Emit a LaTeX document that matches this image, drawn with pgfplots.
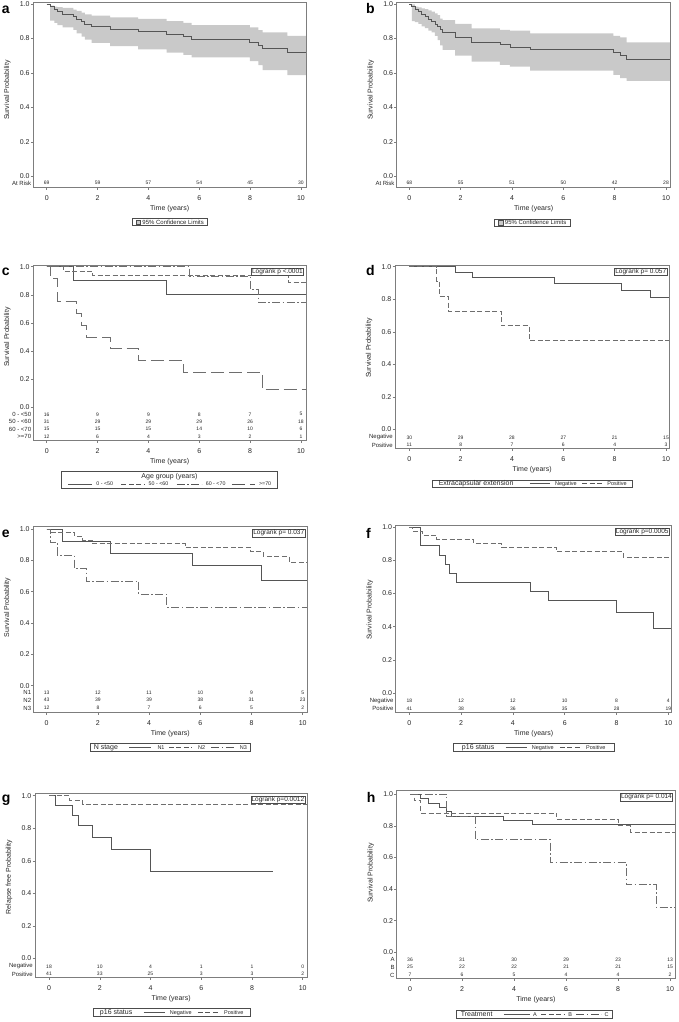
\documentclass[border=0pt]{standalone}
\usepackage{fontspec}
\setmainfont{Liberation Sans}
\usepackage{pgfplots}
\pgfplotsset{compat=1.18}
\usepgfplotslibrary{fillbetween}
\definecolor{band}{RGB}{201,201,201}
\definecolor{frame}{RGB}{125,125,125}
\definecolor{curve}{RGB}{85,85,85}
\definecolor{curveb}{RGB}{110,110,110}
\newcommand\fsz[1]{\fontsize{#1}{#1}\selectfont}
\tikzset{
 riskn/.style={font=\fsz{5}, inner sep=0pt, text=black!85},
 riskl/.style={font=\fsz{6}, inner sep=0pt, anchor=east, xshift=-2pt, text=black!85},
 lgbox/.style={draw=black!70, line width=0.5pt, inner sep=0.5pt, align=center, font=\fsz{6}, text=black!85},
 plet/.style={font=\fsz{14}\bfseries, inner sep=0pt, anchor=base west},
 logr/.style={draw=black!70, line width=0.5pt, inner sep=0.7pt, font=\fsz{6.5}, anchor=north east, xshift=-2.2pt, yshift=-2.5pt, text=black!85, fill=white},
 s2/.style={dash pattern=on 5pt off 2.5pt},
 s3/.style={dash pattern=on 8pt off 2.5pt on 1.5pt off 2.5pt},
 s4/.style={dash pattern=on 13pt off 5pt},
}
\newcommand\lsamp[2]{\tikz[baseline=-0.6ex]\draw[curve, line width=0.6pt, #1] (0,0)--(#2,0);}
\newcommand\riskrow[8]{%
 \node[riskl] at (axis cs:\pgfkeysvalueof{/pgfplots/xmin},#1) {#2};
 \node[riskn] at (axis cs:0,#1) {#3};
 \node[riskn] at (axis cs:2,#1) {#4};
 \node[riskn] at (axis cs:4,#1) {#5};
 \node[riskn] at (axis cs:6,#1) {#6};
 \node[riskn] at (axis cs:8,#1) {#7};
 \node[riskn] at (axis cs:10,#1) {#8};
}
\pgfplotsset{km/.style={
 scale only axis, clip=false, anchor=south west, axis on top,
 axis line style={frame, line width=0.6pt},
 tick pos=left, tick align=outside, major tick length=2.5pt,
 tick style={frame, line width=0.5pt},
 xtick={0,2,4,6,8,10}, ytick={0,0.2,0.4,0.6,0.8,1},
 tick label style={font=\fsz{7}, text=black!85},
 yticklabel style={/pgf/number format/fixed, /pgf/number format/fixed zerofill, /pgf/number format/precision=1, inner sep=1pt},
 xticklabel style={inner sep=1.5pt, yshift=-4.5pt},
 /pgf/number format/assume math mode=true,
 xlabel={Time (years)},
 ylabel={Survival Probability},
 xlabel style={at={(axis description cs:0.5,0)}, anchor=center, yshift=-21.5pt, font=\fsz{7}, text=black!85},
 no markers,
 every axis plot/.append style={line width=0.8pt},
},
ylab/.style={every axis y label/.style={at={(axis description cs:0,#1)}, xshift=-26pt, rotate=90, anchor=center, font=\fsz{7}, text=black!85}},
}
\begin{document}
\begin{tikzpicture}
\path (0,0) rectangle (678pt,-1022pt);

% ---------------- a ----------------
\begin{axis}[km, at={(33.3pt,-187pt)}, width=272.7pt, height=184.7pt,
 xmin=-0.527, xmax=10.197, ymin=-0.062, ymax=1.0099, ylab=0.5243]
\addplot[name path=Ua, const plot, draw=none] coordinates {(0,1) (0.13,0.99) (0.30,0.985) (0.42,0.982) (0.63,0.978) (1.05,0.968) (1.18,0.96) (1.37,0.95) (1.50,0.94) (1.77,0.932) (2.49,0.922) (3.60,0.913) (4.72,0.900) (5.37,0.89) (5.70,0.877) (7.99,0.864) (8.32,0.849) (8.49,0.835) (9.46,0.815) (10.197,0.815)};
\addplot[name path=La, const plot, draw=none] coordinates {(0,1) (0.13,0.903) (0.30,0.89) (0.42,0.878) (0.63,0.865) (1.05,0.85) (1.18,0.83) (1.37,0.81) (1.50,0.794) (1.77,0.775) (2.49,0.755) (3.60,0.737) (4.72,0.718) (5.37,0.705) (5.70,0.69) (7.99,0.668) (8.32,0.645) (8.49,0.616) (9.46,0.587) (10.197,0.587)};
\addplot[band, draw=none] fill between[of=Ua and La];
\addplot[const plot, curve] coordinates {(0,1) (0.13,0.986) (0.30,0.971) (0.42,0.957) (0.63,0.942) (1.05,0.928) (1.18,0.913) (1.37,0.899) (1.50,0.884) (1.77,0.870) (2.49,0.855) (3.60,0.841) (4.72,0.826) (5.37,0.812) (5.70,0.797) (7.99,0.779) (8.32,0.760) (8.49,0.742) (9.46,0.719) (10.197,0.719)};
\riskrow{-0.039}{At Risk}{69}{59}{57}{54}{45}{30}
\end{axis}

% ---------------- b ----------------
\begin{axis}[km, at={(396.7pt,-187pt)}, width=274pt, height=184.7pt,
 xmin=-0.491, xmax=10.183, ymin=-0.062, ymax=1.0099, ylab=0.5243]
\addplot[name path=Ub, const plot, draw=none] coordinates {(0,1) (0.10,0.998) (0.22,0.985) (0.35,0.98) (0.48,0.975) (0.61,0.97) (0.74,0.963) (0.87,0.956) (1.00,0.945) (1.10,0.935) (1.20,0.915) (1.30,0.907) (1.78,0.884) (2.43,0.859) (3.53,0.85) (3.92,0.846) (4.71,0.83) (7.95,0.815) (8.21,0.807) (8.47,0.777) (10.183,0.777)};
\addplot[name path=Lb, const plot, draw=none] coordinates {(0,1) (0.10,0.90) (0.22,0.895) (0.35,0.885) (0.48,0.87) (0.61,0.86) (0.74,0.845) (0.87,0.835) (1.00,0.815) (1.10,0.79) (1.20,0.76) (1.30,0.734) (1.78,0.70) (2.43,0.666) (3.53,0.647) (3.92,0.637) (4.71,0.614) (7.95,0.589) (8.21,0.57) (8.47,0.554) (10.183,0.554)};
\addplot[band, draw=none] fill between[of=Ub and Lb];
\addplot[const plot, curve] coordinates {(0,1) (0.10,0.985) (0.22,0.971) (0.35,0.956) (0.48,0.941) (0.61,0.926) (0.74,0.912) (0.87,0.897) (1.00,0.882) (1.10,0.868) (1.20,0.853) (1.30,0.838) (1.78,0.809) (2.43,0.779) (3.53,0.764) (3.92,0.750) (4.71,0.734) (7.95,0.718) (8.21,0.702) (8.47,0.680) (10.183,0.680)};
\riskrow{-0.039}{At Risk}{68}{55}{51}{50}{42}{28}
\end{axis}

% ---------------- c ----------------
\begin{axis}[km, at={(33.3pt,-440pt)}, width=272.7pt, height=175pt,
 xmin=-0.527, xmax=10.197, ymin=-0.2326, ymax=1.0121, ylab=0.5886]
\addplot[const plot, curve] coordinates {(0,1) (1.05,0.9) (4.69,0.8) (10.197,0.8)};
\addplot[const plot, curveb, s2] coordinates {(0,1) (0.65,0.968) (1.8,0.935) (9.5,0.89) (10.197,0.89)};
\addplot[const plot, curveb, s3] coordinates {(0,1) (5.63,0.933) (8.0,0.84) (8.32,0.747) (10.197,0.747)};
\addplot[const plot, curveb, s4] coordinates {(0,1) (0.16,0.917) (0.42,0.75) (1.15,0.667) (1.38,0.583) (1.55,0.5) (2.49,0.417) (3.6,0.333) (5.37,0.25) (8.49,0.125) (10.197,0.125)};
\node[logr] at (rel axis cs:1,1) {Logrank p <.0001};
\riskrow{-0.0498}{0 - <50}{16}{9}{9}{8}{7}{5}
\riskrow{-0.0996}{50 - <60}{31}{29}{29}{29}{26}{18}
\riskrow{-0.154}{60 - <70}{15}{15}{15}{14}{10}{6}
\riskrow{-0.209}{>=70}{12}{6}{4}{3}{2}{1}
\end{axis}

% ---------------- d ----------------
\begin{axis}[km, at={(395pt,-448.3pt)}, width=274.3pt, height=183.3pt,
 xmin=-0.557, xmax=10.128, ymin=-0.1168, ymax=1.0105, ylab=0.5472]
\addplot[const plot, curve] coordinates {(0,1) (1.78,0.967) (2.47,0.933) (5.64,0.898) (8.27,0.856) (9.4,0.81) (10.128,0.81)};
\addplot[const plot, curveb, s2] coordinates {(0,1) (1.06,0.909) (1.16,0.818) (1.52,0.727) (3.58,0.636) (4.68,0.545) (10.128,0.545)};
\node[logr] at (rel axis cs:1,1) {Logrank p= 0.057};
\riskrow{-0.0492}{Negative}{30}{29}{28}{27}{21}{15}
\riskrow{-0.0966}{Positive}{11}{8}{7}{6}{4}{3}
\end{axis}

% ---------------- e ----------------
\begin{axis}[km, at={(33.3pt,-712pt)}, width=274pt, height=185.3pt,
 xmin=-0.523, xmax=10.18, ymin=-0.168, ymax=1.0147, ylab=0.5648]
\addplot[const plot, curve] coordinates {(0,1) (0.63,0.923) (2.47,0.846) (5.69,0.769) (8.37,0.67) (10.18,0.67)};
\addplot[const plot, curveb, s2] coordinates {(0,1) (0.13,0.977) (1.1,0.953) (1.4,0.930) (1.8,0.907) (5.4,0.883) (7.97,0.855) (8.46,0.826) (9.47,0.79) (10.18,0.79)};
\addplot[const plot, curveb, s3] coordinates {(0,1) (0.13,0.917) (0.42,0.833) (1.07,0.75) (1.54,0.667) (3.6,0.583) (4.69,0.5) (10.18,0.5)};
\node[logr] at (rel axis cs:1,1) {Logrank p= 0.037};
\riskrow{-0.0447}{N1}{13}{12}{11}{10}{9}{5}
\riskrow{-0.093}{N2}{43}{39}{39}{38}{31}{23}
\riskrow{-0.142}{N3}{12}{8}{7}{6}{5}{2}
\end{axis}

% ---------------- f ----------------
\begin{axis}[km, at={(395.7pt,-712.3pt)}, width=276pt, height=187.3pt,
 xmin=-0.525, xmax=10.13, ymin=-0.1165, ymax=1.0139, ylab=0.5454]
\addplot[const plot, curve] coordinates {(0,1) (0.41,0.889) (1.18,0.833) (1.4,0.778) (1.54,0.722) (1.8,0.667) (4.68,0.611) (5.37,0.556) (7.98,0.486) (9.42,0.389) (10.13,0.389)};
\addplot[const plot, curveb, s2] coordinates {(0,1) (0.13,0.976) (0.51,0.951) (1.06,0.927) (2.47,0.902) (3.57,0.878) (5.69,0.853) (8.26,0.82) (10.13,0.82)};
\node[logr] at (rel axis cs:1,1) {Logrank p=0.0005};
\riskrow{-0.0483}{Negative}{18}{12}{12}{10}{8}{4}
\riskrow{-0.0947}{Positive}{41}{38}{36}{35}{28}{19}
\end{axis}

% ---------------- g ----------------
\begin{axis}[km, at={(35pt,-977.3pt)}, width=272.3pt, height=184pt,
 xmin=-0.552, xmax=10.18, ymin=-0.1169, ymax=1.0148,
 ylabel={Relapse free Probability}, ylab=0.5451]
\addplot[const plot, curve] coordinates {(0,1) (0.24,0.941) (0.93,0.882) (1.16,0.815) (1.72,0.741) (2.44,0.667) (3.98,0.533) (8.84,0.533)};
\addplot[const plot, curveb, s2] coordinates {(0,1) (0.8,0.974) (1.33,0.948) (10.18,0.948)};
\node[logr] at (rel axis cs:1,1) {Logrank p=0.0012};
\riskrow{-0.0492}{Negative}{18}{10}{4}{1}{1}{0}
\riskrow{-0.0966}{Positive}{41}{33}{25}{3}{3}{2}
\end{axis}

% ---------------- h ----------------
\begin{axis}[km, at={(396.7pt,-978.3pt)}, width=278.3pt, height=187.6pt,
 xmin=-0.512, xmax=10.19, ymin=-0.164, ymax=1.0215, ylab=0.5601]
\addplot[const plot, curve] coordinates {(0,1) (0.38,0.972) (0.7,0.944) (1.13,0.917) (1.38,0.889) (1.6,0.861) (3.59,0.833) (4.72,0.806) (10.19,0.806)};
\addplot[const plot, curveb, s2] coordinates {(0,1) (0.15,0.96) (0.41,0.88) (5.64,0.84) (8.01,0.80) (8.46,0.76) (10.19,0.76)};
\addplot[const plot, curveb, s3] coordinates {(0,1) (1.41,0.857) (2.5,0.714) (5.38,0.571) (8.31,0.429) (9.46,0.286) (10.19,0.286)};
\node[logr] at (rel axis cs:1,1) {Logrank p= 0.014};
\riskrow{-0.0442}{A}{36}{31}{30}{29}{23}{13}
\riskrow{-0.0929}{B}{25}{22}{22}{21}{21}{15}
\riskrow{-0.1434}{C}{7}{6}{5}{4}{4}{2}
\end{axis}

% ---------------- panel letters ----------------
\node[plet] at (1.7pt,-13.3pt) {a};
\node[plet] at (366pt,-13.3pt) {b};
\node[plet] at (1.7pt,-275pt) {c};
\node[plet] at (366pt,-275.7pt) {d};
\node[plet] at (1.7pt,-537.3pt) {e};
\node[plet] at (366pt,-538.3pt) {f};
\node[plet] at (1.7pt,-802.3pt) {g};
\node[plet] at (366.7pt,-802.3pt) {h};

% ---------------- legends ----------------
\node[lgbox, minimum width=75pt, minimum height=7.4pt] at (169.7pt,-222pt) {\tikz[baseline=0pt]\draw[fill=band, draw=black!70, line width=0.4pt] (0,0) rectangle (4.5pt,4.5pt);\hspace{2pt}95\% Confidence Limits};
\node[lgbox, minimum width=75.7pt, minimum height=7.4pt] at (532.2pt,-222.5pt) {\tikz[baseline=0pt]\draw[fill=band, draw=black!70, line width=0.4pt] (0,0) rectangle (4.5pt,4.5pt);\hspace{2pt}95\% Confidence Limits};
\node[lgbox, minimum width=215.6pt, minimum height=17.3pt] at (169.5pt,-479.7pt) {{\fsz{7}Age group (years)}\\[1pt]\lsamp{solid}{24pt}\hspace{4pt}{\fsz{5.3}0 - <50}\hspace{8pt}\lsamp{s2}{23pt}\hspace{4pt}{\fsz{5.3}50 - <60}\hspace{8pt}\lsamp{s3}{25pt}\hspace{4pt}{\fsz{5.3}60 - <70}\hspace{6pt}\lsamp{s4}{23pt}\hspace{4pt}{\fsz{5.3}>=70}};
\node[lgbox, minimum width=200pt, minimum height=7.7pt] at (532.7pt,-483.8pt) {{\fsz{7}Extracapsular extension}\hspace{16pt}\lsamp{solid}{20pt}\hspace{5pt}{\fsz{5.5}Negative}\hspace{5pt}\lsamp{s2}{20pt}\hspace{5pt}{\fsz{5.5}Positive}};
\node[lgbox, minimum width=160.7pt, minimum height=8.4pt] at (170.3pt,-747.5pt) {{\fsz{7}N stage}\hspace{11pt}\lsamp{solid}{22pt}\hspace{6pt}{\fsz{5.5}N1}\hspace{4pt}\lsamp{s2}{23pt}\hspace{6pt}{\fsz{5.5}N2}\hspace{6pt}\lsamp{s3}{23pt}\hspace{5pt}{\fsz{5.5}N3}};
\node[lgbox, minimum width=160.7pt, minimum height=8.4pt] at (533.7pt,-747.5pt) {{\fsz{7}p16 status}\hspace{11pt}\lsamp{solid}{21pt}\hspace{5pt}{\fsz{5.5}Negative}\hspace{6pt}\lsamp{s2}{20pt}\hspace{6pt}{\fsz{5.5}Positive}};
\node[lgbox, minimum width=156.7pt, minimum height=8.4pt] at (171.7pt,-1012.5pt) {{\fsz{7}p16 status}\hspace{11pt}\lsamp{solid}{21pt}\hspace{5pt}{\fsz{5.5}Negative}\hspace{6pt}\lsamp{s2}{20pt}\hspace{6pt}{\fsz{5.5}Positive}};
\node[lgbox, minimum width=156pt, minimum height=8.4pt] at (534.7pt,-1014.2pt) {{\fsz{7}Treatment}\hspace{11pt}\lsamp{solid}{26pt}\hspace{3pt}{\fsz{5.5}A}\hspace{4pt}\lsamp{s2}{24pt}\hspace{3pt}{\fsz{5.5}B}\hspace{4pt}\lsamp{s3}{25pt}\hspace{3pt}{\fsz{5.5}C}};
\end{tikzpicture}
\end{document}
